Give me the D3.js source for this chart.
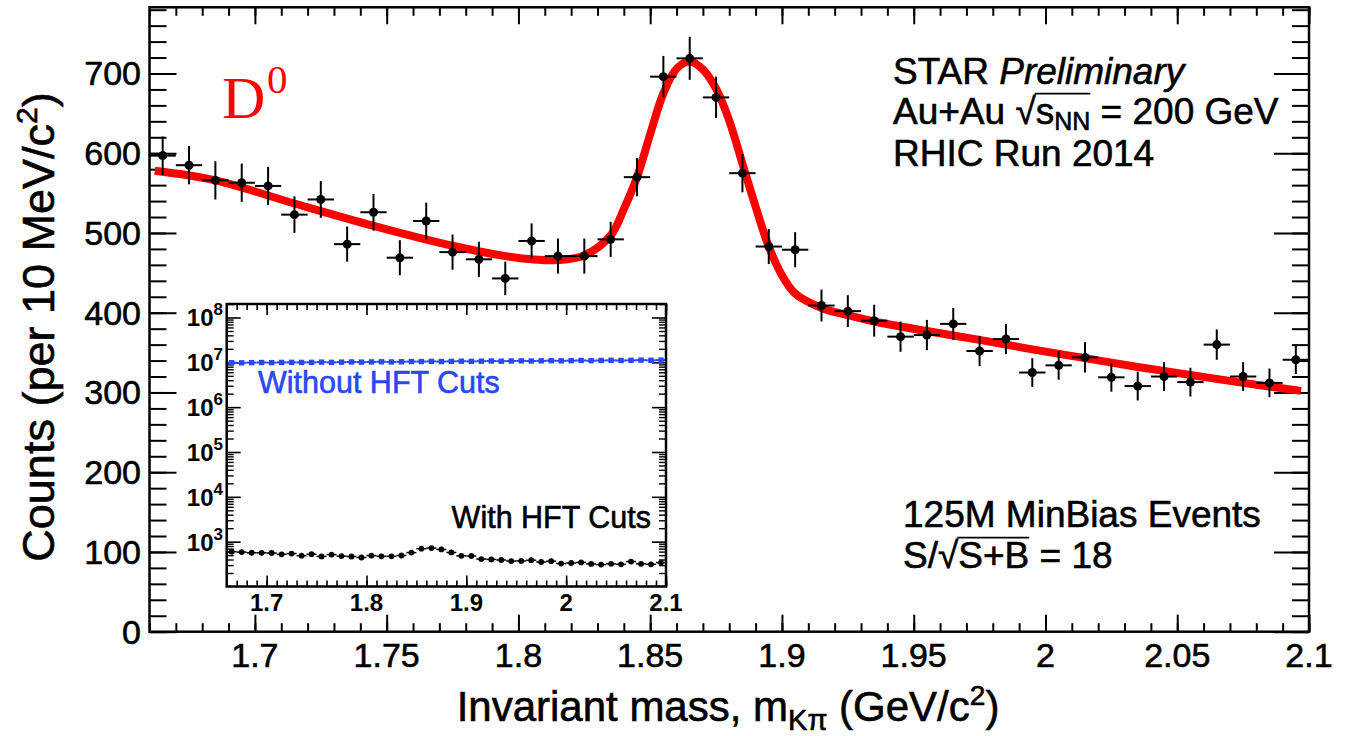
<!DOCTYPE html>
<html><head><meta charset="utf-8">
<script src="https://cdn.jsdelivr.net/npm/d3@7/dist/d3.min.js"></script>
<style>
html,body{margin:0;padding:0;background:#fff;}
svg{display:block;}
text{font-family:"Liberation Sans",Arial,Helvetica,sans-serif;white-space:pre;}
.heavy{stroke:#000;stroke-width:0.6px;}
</style></head><body>
<svg id="chart" width="1353" height="736"></svg>
<script>
// ---------------- data ----------------
const massBins = [1.665,1.675,1.685,1.695,1.705,1.715,1.725,1.735,1.745,1.755,1.765,1.775,1.785,1.795,1.805,1.815,1.825,1.835,1.845,1.855,1.865,1.875,1.885,1.895,1.905,1.915,1.925,1.935,1.945,1.955,1.965,1.975,1.985,1.995,2.005,2.015,2.025,2.035,2.045,2.055,2.065,2.075,2.085,2.095];
const counts = [597,585,566,563,559,523,542,486,526,469,515,476,467,443,490,471,471,492,570,696,719,670,575,483,479,409,402,390,370,372,386,352,367,325,334,344,319,308,320,313,360,320,312,341];
const countErrors = [24,24,24,24,24,23,23,22,23,22,23,22,22,21,22,22,22,22,24,26,27,26,24,22,22,20,20,20,19,19,20,19,19,18,18,19,18,18,18,18,19,18,18,18];
const binHalfWidth = 0.005;

const fitMass = [1.662,1.685,1.715,1.745,1.775,1.795,1.805,1.815,1.825,1.835,1.840,1.845,1.850,1.855,1.860,1.865,1.870,1.875,1.880,1.885,1.890,1.895,1.900,1.905,1.915,1.925,1.935,1.955,1.975,1.995,2.015,2.035,2.055,2.075,2.097];
const fitCounts = [578,566,537,509,484,471,467,466,472,497,530,570,624,675,706,715,705,681,641,587,533,483,447,424,406,397,389,377,366,354,343,332,322,312,302];

const noCutCounts = [9.8e6,9.75e6,9.85e6,9.9e6,9.85e6,9.95e6,1.0e7,9.95e6,1.0e7,1.01e7,1.0e7,1.01e7,1.02e7,1.01e7,1.02e7,1.03e7,1.02e7,1.03e7,1.04e7,1.04e7,1.05e7,1.04e7,1.05e7,1.06e7,1.05e7,1.06e7,1.07e7,1.06e7,1.07e7,1.08e7,1.07e7,1.08e7,1.09e7,1.08e7,1.09e7,1.10e7,1.09e7,1.10e7,1.11e7,1.10e7,1.11e7,1.12e7,1.11e7,1.12e7];

const xTickValues = [1.7,1.75,1.8,1.85,1.9,1.95,2.0,2.05,2.1];
const xTickLabels = ["1.7","1.75","1.8","1.85","1.9","1.95","2","2.05","2.1"];
const yTickValues = [0,100,200,300,400,500,600,700];
const yTickLabels = ["0","100","200","300","400","500","600","700"];
const insetXTickValues = [1.7,1.8,1.9,2.0,2.1];
const insetXTickLabels = ["1.7","1.8","1.9","2","2.1"];
const insetDecades = [1e3,1e4,1e5,1e6,1e7,1e8];
const insetDecadeExps = ["3","4","5","6","7","8"];

// ---------------- layout ----------------
const svg = d3.select('#chart');
const F = {l:149.5, r:1309, t:7.3, b:631.7};
const x = d3.scaleLinear().domain([1.66,2.1]).range([F.l,F.r]);
const y = d3.scaleLinear().domain([0,783]).range([F.b,F.t]);
const RED = '#ff0000', BLUE = '#2a48f2';

function tickAxis(g, axisFn, scale, vals, size, tr, sw){
  const a = axisFn(scale).tickValues(vals).tickSize(size).tickFormat('');
  const sel = g.append('g').attr('transform', tr).call(a);
  sel.select('.domain').remove();
  sel.selectAll('line').attr('stroke','#000').attr('stroke-width', sw);
  return sel;
}

const xMinor = d3.range(166,211).map(v=>v/100);
const yMinor = d3.range(0,784,20);
const axesG = svg.append('g');
tickAxis(axesG, d3.axisTop, x, xMinor, 8.5, `translate(0,${F.b})`, 2);
tickAxis(axesG, d3.axisTop, x, xTickValues, 17, `translate(0,${F.b})`, 2);
tickAxis(axesG, d3.axisBottom, x, xMinor, 8.5, `translate(0,${F.t})`, 2);
tickAxis(axesG, d3.axisBottom, x, xTickValues, 17, `translate(0,${F.t})`, 2);
tickAxis(axesG, d3.axisRight, y, yMinor, 17, `translate(${F.l},0)`, 2);
tickAxis(axesG, d3.axisRight, y, yTickValues, 27, `translate(${F.l},0)`, 2);
tickAxis(axesG, d3.axisLeft, y, yMinor, 17, `translate(${F.r},0)`, 2);
tickAxis(axesG, d3.axisLeft, y, yTickValues, 35, `translate(${F.r},0)`, 2);

// tick labels
svg.append('g').selectAll('text').data(xTickValues).join('text').attr('class','heavy')
  .attr('x', d=>x(d)).attr('y', 667).attr('text-anchor','middle')
  .attr('font-size',34).text((d,i)=>xTickLabels[i]);
svg.append('g').selectAll('text').data(yTickValues).join('text').attr('class','heavy')
  .attr('x', 141).attr('y', d=>y(d)+12).attr('text-anchor','end')
  .attr('font-size',34).text((d,i)=>yTickLabels[i]);

// fit curve
const line = d3.line().x((d,i)=>x(fitMass[i])).y(d=>y(d)).curve(d3.curveCatmullRom);
svg.append('path').datum(fitCounts).attr('d', line).attr('fill','none')
  .attr('stroke',RED).attr('stroke-width',8).attr('stroke-linejoin','round');

// data points
const pts = svg.append('g');
const data = massBins.map((m,i)=>({m, c:counts[i], e:countErrors[i]}));
pts.selectAll('.ve').data(data).join('line')
  .attr('x1',d=>x(d.m)).attr('x2',d=>x(d.m)).attr('y1',d=>y(d.c-d.e)).attr('y2',d=>y(d.c+d.e))
  .attr('stroke','#000').attr('stroke-width',2);
pts.selectAll('.he').data(data).join('line')
  .attr('x1',d=>x(d.m-binHalfWidth)).attr('x2',d=>x(d.m+binHalfWidth)).attr('y1',d=>y(d.c)).attr('y2',d=>y(d.c))
  .attr('stroke','#000').attr('stroke-width',2);
pts.selectAll('circle').data(data).join('circle')
  .attr('cx',d=>x(d.m)).attr('cy',d=>y(d.c)).attr('r',4.5).attr('fill','#000');

// frame
svg.append('rect').attr('x',F.l).attr('y',F.t).attr('width',F.r-F.l).attr('height',F.b-F.t)
  .attr('fill','none').attr('stroke','#000').attr('stroke-width',2.5);

// titles
const xt = svg.append('text').attr('class','heavy').attr('x',728).attr('y',721).attr('text-anchor','middle').attr('font-size',42);
xt.append('tspan').text('Invariant mass, m');
xt.append('tspan').attr('font-size',29).attr('dy',9).text('Kπ');
xt.append('tspan').attr('dy',-9).text(' (GeV/c');
xt.append('tspan').attr('font-size',28).attr('dy',-16).text('2');
xt.append('tspan').attr('dy',16).text(')');

const yt = svg.append('text').attr('class','heavy').attr('transform','translate(54,327) rotate(-90)').attr('text-anchor','middle').attr('font-size',45);
yt.append('tspan').text('Counts (per 10 MeV/c');
yt.append('tspan').attr('font-size',30).attr('dy',-17).text('2');
yt.append('tspan').attr('dy',17).text(')');

// D0 label
svg.append('text').attr('x',222).attr('y',118).style('font-family','"Liberation Serif","Times New Roman",serif')
  .attr('font-size',60).attr('fill',RED).text('D');
svg.append('text').attr('x',267).attr('y',93).style('font-family','"Liberation Serif","Times New Roman",serif')
  .attr('font-size',41).attr('fill',RED).text('0');

// rich text helper
function rich(x0, yb, parts, fill){
  let cx = x0; const pos=[];
  parts.forEach(p=>{
    const t = svg.append('text').attr('class','heavy').attr('x',cx).attr('y',yb+(p.dy||0)).attr('font-size',p.size)
      .attr('font-style',p.italic?'italic':'normal').attr('fill',fill||'#000').text(p.t);
    const w = t.node().getComputedTextLength();
    pos.push({x0:cx,x1:cx+w}); cx += w;
  });
  return pos;
}
const TS = 37;
rich(893, 84, [{t:'STAR ',size:TS},{t:'Preliminary',size:TS,italic:true}]);
const p2 = rich(893, 124, [{t:'Au+Au ',size:TS},{t:'√',size:TS},{t:'s',size:TS},{t:'NN',size:25,dy:6},{t:' = 200 GeV',size:TS}]);
svg.append('line').attr('x1',p2[1].x1-1).attr('x2',p2[3].x1).attr('y1',124-TS*0.82).attr('y2',124-TS*0.82)
  .attr('stroke','#000').attr('stroke-width',1.6);
rich(893, 166, [{t:'RHIC Run 2014',size:TS}]);
rich(903, 527, [{t:'125M MinBias Events',size:TS}]);
const p5 = rich(903, 568, [{t:'S/',size:TS},{t:'√',size:TS},{t:'S+B',size:TS},{t:' = 18',size:TS}]);
svg.append('line').attr('x1',p5[1].x1-1).attr('x2',p5[2].x1).attr('y1',568-TS*0.82).attr('y2',568-TS*0.82)
  .attr('stroke','#000').attr('stroke-width',1.6);

// ---------------- inset ----------------
const I = {l:226.7, r:666, t:304, b:586.5};
const xi = d3.scaleLinear().domain([1.66,2.1]).range([I.l,I.r]);
const yi = d3.scaleLog().domain([100,2e8]).range([I.b,I.t]);
const ins = svg.append('g');
ins.append('rect').attr('x',I.l).attr('y',I.t).attr('width',I.r-I.l).attr('height',I.b-I.t).attr('fill','#fff');

const logMinor = [];
[100,1e3,1e4,1e5,1e6,1e7,1e8].forEach(d=>{ for(let k=2;k<=9;k++){ if(k*d<=2e8) logMinor.push(k*d);} });
const xiMinor = d3.range(166,211).map(v=>v/100);
tickAxis(ins, d3.axisTop, xi, xiMinor, 6, `translate(0,${I.b})`, 1.6);
tickAxis(ins, d3.axisTop, xi, insetXTickValues, 11, `translate(0,${I.b})`, 1.6);
tickAxis(ins, d3.axisBottom, xi, xiMinor, 6, `translate(0,${I.t})`, 1.6);
tickAxis(ins, d3.axisBottom, xi, insetXTickValues, 11, `translate(0,${I.t})`, 1.6);
tickAxis(ins, d3.axisRight, yi, logMinor, 7, `translate(${I.l},0)`, 1.4);
tickAxis(ins, d3.axisRight, yi, insetDecades, 14, `translate(${I.l},0)`, 1.6);
tickAxis(ins, d3.axisLeft, yi, logMinor, 7, `translate(${I.r},0)`, 1.4);
tickAxis(ins, d3.axisLeft, yi, insetDecades, 14, `translate(${I.r},0)`, 1.6);

ins.selectAll('.xl').data(insetXTickValues).join('text')
  .attr('x',d=>xi(d)).attr('y',611).attr('text-anchor','middle').attr('font-size',24).attr('font-weight','bold')
  .text((d,i)=>insetXTickLabels[i]);
insetDecades.forEach((d,i)=>{
  const t = ins.append('text').attr('x',223).attr('y',yi(d)+9).attr('text-anchor','end').attr('font-size',24).attr('font-weight','bold');
  t.append('tspan').text('10');
  t.append('tspan').attr('font-size',17).attr('dy',-11).text(insetDecadeExps[i]);
});

// blue series (without cuts)
const blue = massBins.map((m,i)=>({m, c:noCutCounts[i]}));
ins.selectAll('.bh').data(blue).join('line')
  .attr('x1',d=>xi(d.m-binHalfWidth)).attr('x2',d=>xi(d.m+binHalfWidth)).attr('y1',d=>yi(d.c)).attr('y2',d=>yi(d.c))
  .attr('stroke',BLUE).attr('stroke-width',2);
ins.selectAll('.bs').data(blue).join('rect')
  .attr('x',d=>xi(d.m)-2.7).attr('y',d=>yi(d.c)-2.7).attr('width',5.4).attr('height',5.4).attr('fill',BLUE);

// black series (with cuts)
ins.selectAll('.kh').data(data).join('line')
  .attr('x1',d=>xi(d.m-binHalfWidth)).attr('x2',d=>xi(d.m+binHalfWidth)).attr('y1',d=>yi(d.c)).attr('y2',d=>yi(d.c))
  .attr('stroke','#000').attr('stroke-width',1.5);
ins.selectAll('.kv').data(data).join('line')
  .attr('x1',d=>xi(d.m)).attr('x2',d=>xi(d.m)).attr('y1',d=>yi(d.c-d.e)).attr('y2',d=>yi(d.c+d.e))
  .attr('stroke','#000').attr('stroke-width',1.5);
ins.selectAll('.kc').data(data).join('circle')
  .attr('cx',d=>xi(d.m)).attr('cy',d=>yi(d.c)).attr('r',2.9).attr('fill','#000');

ins.append('text').attr('x',258).attr('y',393).attr('font-size',30.5).attr('fill',BLUE)
  .style('stroke',BLUE).style('stroke-width','0.6px').text('Without HFT Cuts');
ins.append('text').attr('class','heavy').attr('x',651).attr('y',528).attr('text-anchor','end').attr('font-size',30.5).text('With HFT Cuts');

ins.append('rect').attr('x',I.l).attr('y',I.t).attr('width',I.r-I.l).attr('height',I.b-I.t)
  .attr('fill','none').attr('stroke','#000').attr('stroke-width',2.5);
</script>
</body></html>
